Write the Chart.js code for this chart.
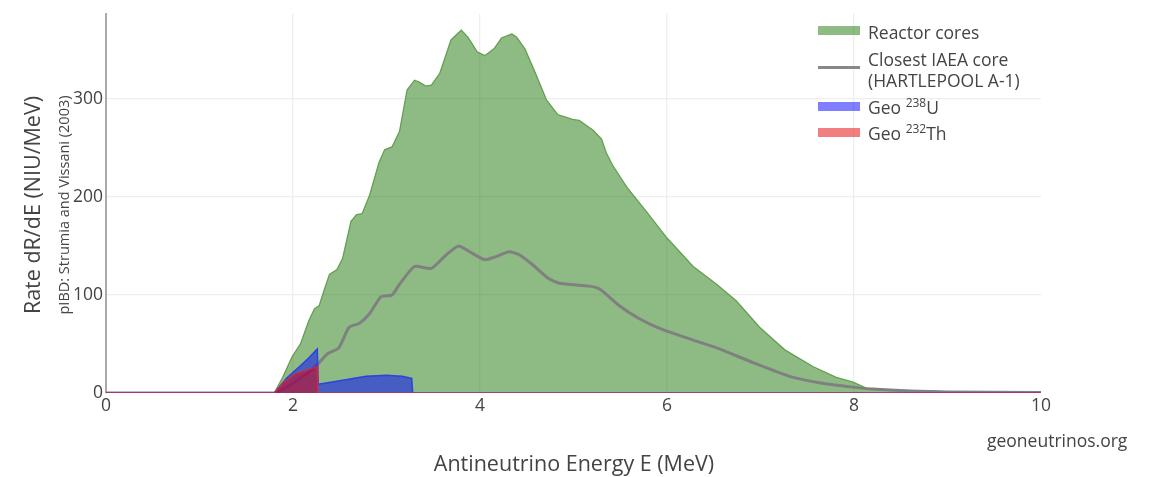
<!DOCTYPE html>
<html><head><meta charset="utf-8">
<script src="https://cdn.jsdelivr.net/npm/chart.js@4/dist/chart.umd.min.js"></script>
<style>
html,body{margin:0;padding:0;background:#fff;}
#wrap{position:relative;width:1156px;height:477px;font-family:"Open Sans",sans-serif;color:#444;}
canvas{position:absolute;left:0;top:0;}
.t{position:absolute;white-space:nowrap;}
.sw{position:absolute;left:818px;width:42px;}
sup{font-size:12px;line-height:0;vertical-align:7px;}
</style></head><body>
<div id="wrap">
<canvas id="c" width="1156" height="477"></canvas>
<div class="t" style="left:31px;top:205px;transform:translate(-50%,-50%) rotate(-90deg);font-size:21.5px;">Rate dR/dE (NIU/MeV)</div>
<div class="t" style="left:63px;top:205px;transform:translate(-50%,-50%) rotate(-90deg);font-size:14.5px;">pIBD: Strumia and Vissani (2003)</div>
<div class="t" style="left:574px;top:462px;transform:translate(-50%,-50%);font-size:21.5px;">Antineutrino Energy E (MeV)</div>
<div class="t" style="left:987px;top:440px;transform:translate(0,-50%);font-size:17.5px;">geoneutrinos.org</div>
<div class="sw" style="top:26px;height:9px;background:rgba(30,120,10,0.5);"></div>
<div class="t" style="left:868px;top:32px;transform:translate(0,-50%);font-size:17.5px;">Reactor cores</div>
<div class="sw" style="top:66px;height:3px;background:#888;"></div>
<div class="t" style="left:868px;top:59px;transform:translate(0,-50%);font-size:17.5px;">Closest IAEA core</div>
<div class="t" style="left:868px;top:80px;transform:translate(0,-50%);font-size:17.5px;">(HARTLEPOOL A-1)</div>
<div class="sw" style="top:102px;height:9px;background:rgba(0,0,255,0.5);"></div>
<div class="t" style="left:868px;top:107px;transform:translate(0,-50%);font-size:17.5px;">Geo <sup>238</sup>U</div>
<div class="sw" style="top:128px;height:9px;background:rgba(230,0,0,0.5);"></div>
<div class="t" style="left:868px;top:133px;transform:translate(0,-50%);font-size:17.5px;">Geo <sup>232</sup>Th</div>
</div>
<script>
const reactorE = [0,1.8,1.89,1.99,2.08,2.17,2.23,2.28,2.33,2.39,2.47,2.53,2.62,2.68,2.74,2.82,2.92,2.98,3.06,3.14,3.22,3.30,3.35,3.42,3.48,3.57,3.69,3.80,3.87,3.97,4.05,4.15,4.23,4.34,4.39,4.48,4.58,4.71,4.83,4.99,5.06,5.21,5.30,5.35,5.42,5.57,5.78,6.0,6.28,6.53,6.74,6.99,7.26,7.56,7.81,7.99,8.13,8.3,8.6,9.0,9.5,10];
const reactorRate = [0,0,16,37,50,74,86,89,104,121,126,137,175,182,183,202,235,248,251,267,309,319,317,313,314,326,360,370,363,348,344,351,362,366,363,351,329,299,284,279,278,268,259,245,232,210,185,158,129,111,94,67,44,27,16,11,5,3.5,2.5,1.5,1,0.5];
const closestE = [0,1.8,2.0,2.15,2.26,2.37,2.49,2.60,2.71,2.82,2.94,3.06,3.14,3.30,3.48,3.64,3.77,3.89,4.05,4.17,4.31,4.42,4.56,4.73,4.85,5.17,5.28,5.49,5.70,5.92,6.28,6.56,6.92,7.31,7.66,7.99,8.2,8.6,9.0,10];
const closestRate = [0,0,10,20,29,40,46,67,71,81,98,100,111,129,127,141,150,144,136,139,144,141,131,117,112,109,106,89,76,66,54,45,31,17,10,6,4,2,1,0.5];
const geoUE = [0,1.8,1.93,2.07,2.17,2.26,2.27,2.40,2.53,2.78,3.0,3.17,3.27,3.28,10];
const geoURate = [0,0,15,27,36,45,9,11,13,17,18,17,15,0,0];
const geoThE = [0,1.8,1.9,2.03,2.1,2.17,2.26,2.265,10];
const geoThRate = [0,0,11,20,22,24,27,0,0];
const xTicks = [0,2,4,6,8,10];
const yTicks = [0,100,200,300];

const pts = (xs, ys) => xs.map((x, i) => ({x: x, y: ys[i]}));

new Chart(document.getElementById('c'), {
  type: 'line',
  data: {
    datasets: [
      {label: 'Reactor cores', data: pts(reactorE, reactorRate), fill: 'origin',
       backgroundColor: 'rgba(30,120,10,0.5)', borderColor: 'rgb(100,160,80)', borderWidth: 1.3, pointRadius: 0, tension: 0, order: 4},
      {label: 'Closest IAEA core (HARTLEPOOL A-1)', data: pts(closestE, closestRate), fill: false,
       borderColor: 'rgb(128,128,128)', borderWidth: 3, pointRadius: 0, tension: 0.2, order: 3},
      {label: 'Geo 238U', data: pts(geoUE, geoURate), fill: 'origin',
       backgroundColor: 'rgba(0,0,255,0.5)', borderColor: 'rgba(40,60,230,0.9)', borderWidth: 1.5, pointRadius: 0, tension: 0, order: 2},
      {label: 'Geo 232Th', data: pts(geoThE, geoThRate), fill: 'origin',
       backgroundColor: 'rgba(230,0,0,0.5)', borderColor: 'rgba(220,40,60,0.8)', borderWidth: 1.5, pointRadius: 0, tension: 0, order: 1}
    ]
  },
  options: {
    responsive: false,
    animation: false,
    layout: {padding: {left: 0, right: 115, top: 10, bottom: 0}},
    plugins: {legend: {display: false}, tooltip: {enabled: false}},
    scales: {
      x: {
        type: 'linear', min: 0, max: 10,
        afterFit: s => { s.height = 84; },
        afterBuildTicks: s => { s.ticks = xTicks.map(v => ({value: v})); },
        grid: {color: ctx => (ctx.tick && (ctx.tick.value === 0 || ctx.tick.value === 10)) ? 'rgba(0,0,0,0)' : '#eeeeee', lineWidth: 1.3, drawTicks: false},
        border: {display: false},
        ticks: {color: '#444', font: {family: 'Open Sans', size: 17.5}, padding: 3, maxRotation: 0}
      },
      y: {
        min: 0, max: 387,
        afterFit: s => { s.width = 106; },
        afterBuildTicks: s => { s.ticks = yTicks.map(v => ({value: v})); },
        grid: {color: ctx => (ctx.tick && ctx.tick.value === 0) ? 'rgba(0,0,0,0)' : '#eeeeee', lineWidth: 1.3, drawTicks: false},
        border: {display: true, color: '#aaaaaa', width: 2},
        ticks: {color: '#444', font: {family: 'Open Sans', size: 17.5}, padding: 3}
      }
    }
  }
});
</script>
</body></html>
